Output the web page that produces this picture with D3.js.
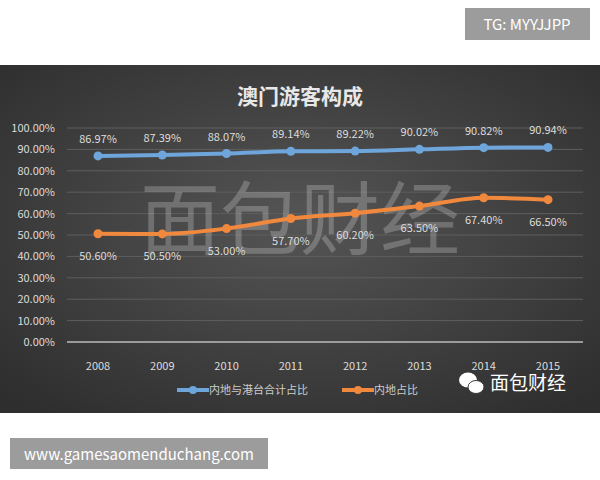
<!DOCTYPE html>
<html lang="zh">
<head>
<meta charset="UTF-8">
<title>澳门游客构成</title>
<script src="https://cdnjs.cloudflare.com/ajax/libs/d3/7.8.5/d3.min.js"></script>
<style>body{margin:0;background:#fff}</style>
</head>
<body>
<svg id="chart" width="600" height="480"></svg>
<script>
const years = ["2008","2009","2010","2011","2012","2013","2014","2015"]
const totalShare = [86.97, 87.39, 88.07, 89.14, 89.22, 90.02, 90.82, 90.94]
const mainlandShare = [50.6, 50.5, 53.0, 57.7, 60.2, 63.5, 67.4, 66.5]
const yTicks = [0,10,20,30,40,50,60,70,80,90,100]
const seriesNames = ["内地与港台合计占比", "内地占比"]

const svg = d3.select("#chart")
const font = "'Noto Sans CJK SC', 'Noto Sans', sans-serif"

// panel background
const grad = svg.append("defs").append("radialGradient").attr("id", "bg")
  .attr("cx", "50%").attr("cy", "45%").attr("r", "70%")
grad.append("stop").attr("offset", "0%").attr("stop-color", "#555")
grad.append("stop").attr("offset", "100%").attr("stop-color", "#2e2e2e")
svg.append("rect").attr("x", 0).attr("y", 65).attr("width", 600).attr("height", 348).attr("fill", "url(#bg)")

// corner tags
svg.append("rect").attr("x", 465).attr("y", 8).attr("width", 125).attr("height", 32).attr("fill", "#9c9c9c")
svg.append("text").attr("x", 527).attr("y", 30).attr("text-anchor", "middle").attr("fill", "#fff")
  .style("font", "15px " + font).text("TG: MYYJJPP")
svg.append("rect").attr("x", 10).attr("y", 438).attr("width", 258).attr("height", 31).attr("fill", "#9c9c9c")
svg.append("text").attr("x", 139).attr("y", 460).attr("text-anchor", "middle").attr("fill", "#fff")
  .style("font", "15px " + font).text("www.gamesaomenduchang.com")

svg.append("text").attr("x", 300).attr("y", 104).attr("text-anchor", "middle").attr("fill", "#e8e8e8")
  .style("font", "bold 21px " + font).text("澳门游客构成")

const x = d3.scalePoint().domain(years).range([98, 548])
const y = d3.scaleLinear().domain([0, 100]).range([342, 128])

// grid
svg.append("g").selectAll("line").data(yTicks).join("line")
  .attr("x1", 67).attr("x2", 583).attr("y1", d => y(d)).attr("y2", d => y(d))
  .attr("stroke", d => d === 0 ? "#bbb" : "#5e5e5e").attr("stroke-width", d => d === 0 ? 1.5 : 1)
svg.append("g").selectAll("text").data(yTicks).join("text")
  .attr("x", 55).attr("y", d => y(d) + 4).attr("text-anchor", "end").attr("fill", "#ddd")
  .style("font", "11px " + font).text(d => d.toFixed(2) + "%")
svg.append("g").selectAll("text").data(years).join("text")
  .attr("x", d => x(d)).attr("y", 370).attr("text-anchor", "middle").attr("fill", "#ddd")
  .style("font", "11px " + font).text(d => d)

// watermark
svg.append("text").attr("x", 300).attr("y", 248).attr("text-anchor", "middle")
  .attr("fill", "rgba(255,255,255,0.22)").style("font", "80px " + font).text("面包财经")

const line = d3.line().x((d, i) => x(years[i])).y(d => y(d)).curve(d3.curveMonotoneX)
const series = [
  {vals: totalShare, color: "#6ea6dc", dy: -17},
  {vals: mainlandShare, color: "#f0883e", dy: 22}
]
series.forEach(s => {
  svg.append("path").datum(s.vals).attr("d", line).attr("fill", "none")
    .attr("stroke", s.color).attr("stroke-width", 4)
  svg.append("g").selectAll("circle").data(s.vals).join("circle")
    .attr("cx", (d, i) => x(years[i])).attr("cy", d => y(d)).attr("r", 4.5).attr("fill", s.color)
  svg.append("g").selectAll("text").data(s.vals).join("text")
    .attr("x", (d, i) => x(years[i])).attr("y", d => y(d) + s.dy + 4).attr("text-anchor", "middle")
    .attr("fill", "#ddd").style("font", "11px " + font).text(d => d.toFixed(2) + "%")
})

// legend
const lg = [[177, series[0].color, seriesNames[0]], [342, series[1].color, seriesNames[1]]]
lg.forEach(([lx, c, name]) => {
  svg.append("line").attr("x1", lx).attr("x2", lx + 32).attr("y1", 390).attr("y2", 390)
    .attr("stroke", c).attr("stroke-width", 4)
  svg.append("circle").attr("cx", lx + 16).attr("cy", 390).attr("r", 4).attr("fill", c)
  svg.append("text").attr("x", lx + 32).attr("y", 394).attr("fill", "#ccc")
    .style("font", "11px " + font).text(name)
})

// wechat mark
const wc = svg.append("g").attr("transform", "translate(468,383)")
wc.append("ellipse").attr("cx", 0).attr("cy", -3).attr("rx", 9).attr("ry", 7.5).attr("fill", "#fff")
wc.append("ellipse").attr("cx", 8).attr("cy", 4).attr("rx", 8).attr("ry", 6.5).attr("fill", "#fff").attr("stroke", "#3c3c3c")
svg.append("text").attr("x", 490).attr("y", 390).attr("fill", "#fff")
  .style("font", "19px " + font).text("面包财经")
</script>
</body>
</html>
